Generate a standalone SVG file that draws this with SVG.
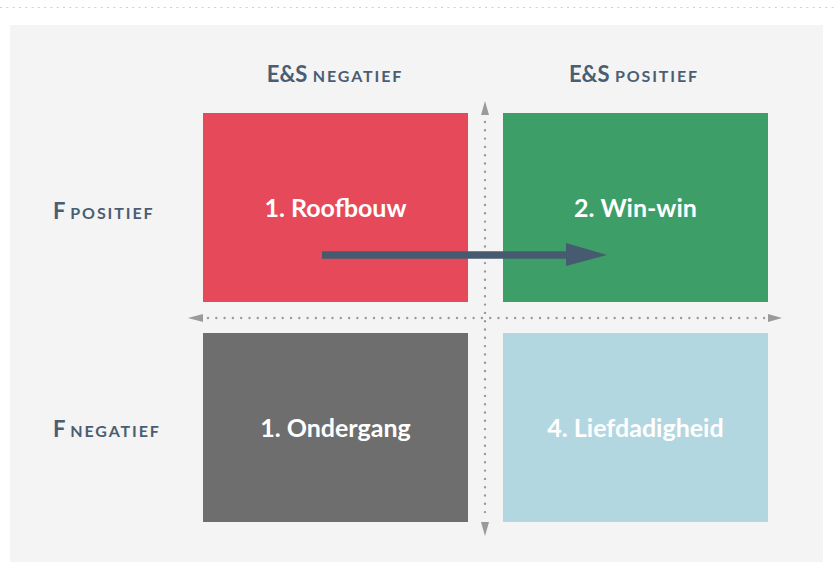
<svg xmlns="http://www.w3.org/2000/svg" width="834" height="574" viewBox="0 0 834 574">
<style>
.axis{font-family:Lato,"Open Sans",sans-serif;font-size:22px;fill:#4a5e73;font-weight:bold}
.sc{font-size:16px;letter-spacing:1.9px}
.q{font-family:Lato,"Open Sans",sans-serif;font-size:25px;fill:#ffffff;font-weight:bold;text-anchor:middle}
.dot{stroke:#9a9a9a;stroke-width:2.4;stroke-linecap:round;stroke-dasharray:0 8.3;fill:none}
.head{fill:#9a9a9a}
</style>
<line x1="0" y1="7.5" x2="834" y2="7.5" stroke="#cfcfcf" stroke-width="1" stroke-dasharray="2 4.3"/>
<rect x="10" y="25" width="813" height="537" fill="#f4f4f4"/>
<g id="q1"><rect x="203" y="113" width="265" height="189" fill="#e5495a"/><text class="q" x="335.5" y="217">1. Roofbouw</text></g>
<g id="q2"><rect x="503" y="113" width="265" height="189" fill="#3e9e68"/><text class="q" x="635.5" y="217">2. Win-win</text></g>
<g id="q3"><rect x="203" y="333" width="265" height="189" fill="#6e6e6e"/><text class="q" x="335.5" y="437">1. Ondergang</text></g>
<g id="q4"><rect x="503" y="333" width="265" height="189" fill="#b3d7e1"/><text class="q" x="635.5" y="437">4. Liefdadigheid</text></g>
<g id="labels">
<text class="axis" x="335" y="81.5" text-anchor="middle">E&amp;S <tspan class="sc">NEGATIEF</tspan></text>
<text class="axis" x="634" y="81.5" text-anchor="middle">E&amp;S <tspan class="sc">POSITIEF</tspan></text>
<text class="axis" x="53" y="219">F <tspan class="sc">POSITIEF</tspan></text>
<text class="axis" x="53" y="437">F <tspan class="sc">NEGATIEF</tspan></text>
</g>
<g id="connectors">
<line class="dot" x1="485" y1="122" x2="485" y2="520"/>
<polygon class="head" points="485,101 481,115 489,115"/>
<polygon class="head" points="485,536 481,522 489,522"/>
<line class="dot" x1="208" y1="318" x2="765" y2="318"/>
<polygon class="head" points="188,318 203,314 203,322"/>
<polygon class="head" points="782,318 768,314 768,322"/>
<line x1="322" y1="255" x2="570" y2="255" stroke="#465b70" stroke-width="7.5"/>
<polygon points="607,255 566,243 566,266" fill="#465b70"/>
</g>
</svg>
